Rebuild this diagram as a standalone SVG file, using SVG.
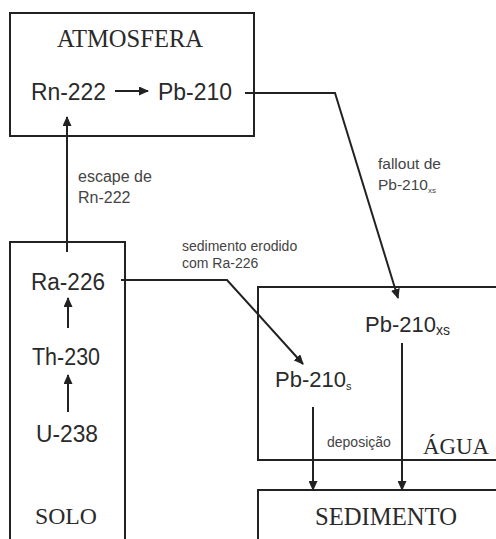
<svg xmlns="http://www.w3.org/2000/svg" width="496" height="539" viewBox="0 0 496 539">
<style>
.box{fill:none;stroke:#222;stroke-width:2}
.ln{fill:none;stroke:#222;stroke-width:2}
.ser{font-family:"Liberation Serif","Times New Roman",serif;fill:#2a2a2a}
.san{font-family:"Liberation Sans",Arial,sans-serif;fill:#2a2a2a}
.lab{font-family:"Liberation Sans",Arial,sans-serif;fill:#444}
</style>
<defs>
<marker id="ah" markerUnits="userSpaceOnUse" markerWidth="10" markerHeight="9" refX="9" refY="4.5" orient="auto">
<path d="M0,0 L10,4.5 L0,9 z" fill="#222"/>
</marker>
</defs>
<rect width="496" height="539" fill="#fff"/>
<g id="atmosfera">
<rect class="box" x="10" y="13" width="244" height="123"/>
<text class="ser" x="57" y="47" font-size="25" textLength="146" lengthAdjust="spacingAndGlyphs">ATMOSFERA</text>
<text class="san" x="31" y="100" font-size="24" textLength="75" lengthAdjust="spacingAndGlyphs">Rn-222</text>
<text class="san" x="158" y="100" font-size="24" textLength="74" lengthAdjust="spacingAndGlyphs">Pb-210</text>
</g>
<g id="solo">
<rect class="box" x="10" y="242" width="115" height="310"/>
<text class="san" x="31" y="290" font-size="23" textLength="74" lengthAdjust="spacingAndGlyphs">Ra-226</text>
<text class="san" x="32" y="365" font-size="23" textLength="68" lengthAdjust="spacingAndGlyphs">Th-230</text>
<text class="san" x="36" y="442" font-size="23" textLength="62" lengthAdjust="spacingAndGlyphs">U-238</text>
<text class="ser" x="35" y="524" font-size="24" textLength="62" lengthAdjust="spacingAndGlyphs">SOLO</text>
</g>
<g id="agua">
<rect class="box" x="258" y="287" width="250" height="173"/>
<text class="san" x="365" y="332" font-size="22"><tspan>Pb-210</tspan><tspan font-size="14" dy="3">xs</tspan></text>
<text class="san" x="275" y="387" font-size="22"><tspan>Pb-210</tspan><tspan font-size="11" dy="3">s</tspan></text>
<text class="ser" x="423" y="454" font-size="23" textLength="66" lengthAdjust="spacingAndGlyphs">ÁGUA</text>
</g>
<g id="sedimento">
<rect class="box" x="258" y="490" width="250" height="70"/>
<text class="ser" x="315" y="525" font-size="24.5" textLength="142" lengthAdjust="spacingAndGlyphs">SEDIMENTO</text>
</g>
<g id="connectors">
<line class="ln" x1="115" y1="91" x2="148" y2="91" marker-end="url(#ah)"/>
<polyline class="ln" points="245,93 335,93 398,298" marker-end="url(#ah)"/>
<line class="ln" x1="67" y1="252" x2="67" y2="117" marker-end="url(#ah)"/>
<line class="ln" x1="68" y1="328" x2="68" y2="298" marker-end="url(#ah)"/>
<line class="ln" x1="68" y1="412" x2="68" y2="375" marker-end="url(#ah)"/>
<polyline class="ln" points="121,280 227,280 303,364" marker-end="url(#ah)"/>
<line class="ln" x1="402" y1="343" x2="402" y2="490" marker-end="url(#ah)"/>
<line class="ln" x1="313" y1="407" x2="313" y2="490" marker-end="url(#ah)"/>
<text class="lab" x="78" y="182" font-size="16">escape de</text>
<text class="lab" x="78" y="203" font-size="16">Rn-222</text>
<text class="lab" x="378" y="169" font-size="15.5">fallout de</text>
<text class="lab" x="378" y="190" font-size="15.5"><tspan>Pb-210</tspan><tspan font-size="8" dy="3">xs</tspan></text>
<text class="lab" x="182" y="251" font-size="14">sedimento erodido</text>
<text class="lab" x="182" y="268" font-size="14">com Ra-226</text>
<text class="lab" x="327" y="447" font-size="14">deposição</text>
</g>
</svg>
